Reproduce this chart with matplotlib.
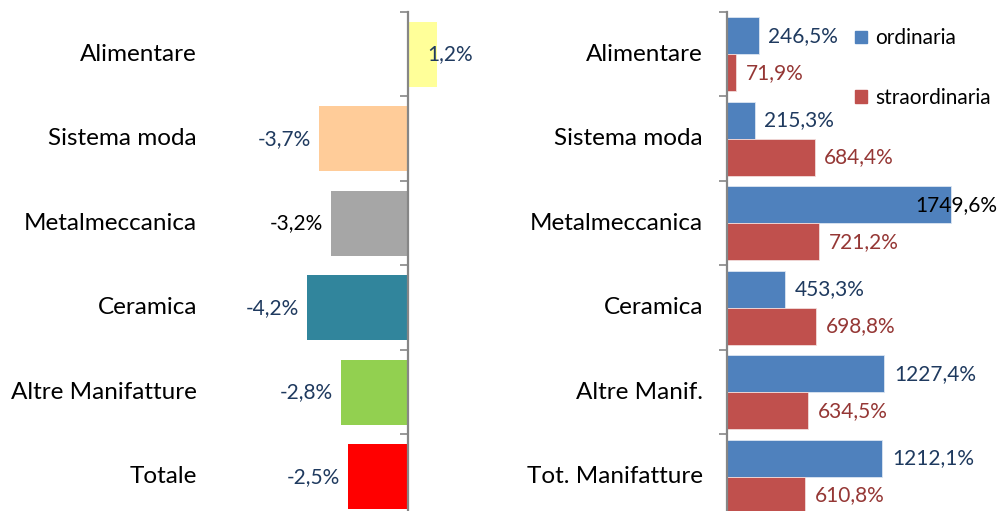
import numpy as np
import matplotlib.pyplot as plt
from matplotlib.transforms import blended_transform_factory
from matplotlib.patches import Patch

plt.rcParams['font.family'] = ['Lato', 'DejaVu Sans']

# data
left_cats = ['Alimentare', 'Sistema moda', 'Metalmeccanica', 'Ceramica',
             'Altre Manifatture', 'Totale']
left_vals = [1.2, -3.7, -3.2, -4.2, -2.8, -2.5]
left_colors = ['#FFFF99', '#FFCC99', '#A6A6A6', '#31859C', '#92D050', '#FF0000']
left_lbl_colors = ['#1F3A5F', '#1F3A5F', 'black', '#1F3A5F', '#1F3A5F', '#1F3A5F']

right_cats = ['Alimentare', 'Sistema moda', 'Metalmeccanica', 'Ceramica',
              'Altre Manif.', 'Tot. Manifatture']
ordinaria = [246.5, 215.3, 1749.6, 453.3, 1227.4, 1212.1]
straordinaria = [71.9, 684.4, 721.2, 698.8, 634.5, 610.8]

W, H = 997, 511
FS = 15        # value labels
FS_CAT = 17.5  # category labels
AX_COL = '#868686'
BLUE, RED = '#4F81BD', '#C0504D'
BLUE_TXT, RED_TXT = '#1F3A5F', '#953735'

fig = plt.figure(figsize=(W / 100, H / 100), dpi=100)


def px_axes(x0, x1, y0, y1):
    # pixel box (from top-left) -> axes
    return fig.add_axes([x0 / W, (H - y1) / H, (x1 - x0) / W, (y1 - y0) / H])


def style_axis(ax):
    n = 6
    ax.set_ylim(n - 0.5, -0.5)
    for s in ['top', 'right', 'bottom']:
        ax.spines[s].set_visible(False)
    ax.spines['left'].set_color(AX_COL)
    ax.spines['left'].set_linewidth(1.6)
    ax.set_yticks(np.arange(n + 1) - 0.5)
    ax.set_yticklabels([])
    ax.tick_params(axis='y', direction='out', length=6, width=1.2, color=AX_COL)
    ax.set_xticks([])


# ---- left chart: zero at x=408, 24 px per %
zero_l, k_l = 408, 24.0
ax1 = px_axes(300, 490, 12, 519)
ax1.set_xlim((300 - zero_l) / k_l, (490 - zero_l) / k_l)
style_axis(ax1)
ax1.spines['left'].set_position(('data', 0))
y = np.arange(len(left_cats))
ax1.barh(y, left_vals, height=0.77, color=left_colors, zorder=1)
tr1 = blended_transform_factory(fig.transFigure, ax1.transData)
for i, (c, v) in enumerate(zip(left_cats, left_vals)):
    fig.text(197 / W, i, c, transform=tr1, ha='right', va='center', fontsize=FS_CAT)
    lbl = f'{v:.1f}%'.replace('.', ',')
    if v < 0:
        ax1.annotate(lbl, (v, i), xytext=(-6, 0), textcoords='offset points',
                     ha='right', va='center', fontsize=FS, color=left_lbl_colors[i])
    else:
        ax1.annotate(lbl, (v, i), xytext=(-7, 0), textcoords='offset points',
                     ha='left', va='center', fontsize=FS, color=left_lbl_colors[i])

# ---- right chart: zero at x=727, 0.128 px per %
zero_r, k_r = 727, 0.128
ax2 = px_axes(zero_r, W, 12, 519)
ax2.set_xlim(0, (W - zero_r) / k_r)
style_axis(ax2)
hb = 0.438
ax2.barh(y - hb / 2, ordinaria, height=hb, color=BLUE, edgecolor='#DCE6F2',
         linewidth=0.6)
ax2.barh(y + hb / 2, straordinaria, height=hb, color=RED, edgecolor='#F2DCDB',
         linewidth=0.6)
tr2 = blended_transform_factory(fig.transFigure, ax2.transData)
xmax = ax2.get_xlim()[1]
for i, c in enumerate(right_cats):
    fig.text(703 / W, i, c, transform=tr2, ha='right', va='center', fontsize=FS_CAT)
    v = ordinaria[i]
    lbl = f'{v:.1f}%'.replace('.', ',')
    if v + 80 / k_r > xmax:
        ax2.text(xmax, i - hb / 2, lbl, ha='right', va='center', fontsize=FS,
                 color='black')
    else:
        ax2.annotate(lbl, (v, i - hb / 2), xytext=(7, 0), textcoords='offset points',
                     ha='left', va='center', fontsize=FS, color=BLUE_TXT)
    v = straordinaria[i]
    lbl = f'{v:.1f}%'.replace('.', ',')
    ax2.annotate(lbl, (v, i + hb / 2), xytext=(7, 0), textcoords='offset points',
                 ha='left', va='center', fontsize=FS, color=RED_TXT)

handles = [Patch(color=BLUE), Patch(color=RED)]
fig.legend(handles, ['ordinaria', 'straordinaria'], loc='upper left',
           bbox_to_anchor=(845 / W, 1 - 18 / H), frameon=False, fontsize=15,
           handlelength=0.55, handleheight=0.55, handletextpad=0.4,
           labelspacing=1.9, borderpad=0)

fig.savefig('out.png', dpi=100)
